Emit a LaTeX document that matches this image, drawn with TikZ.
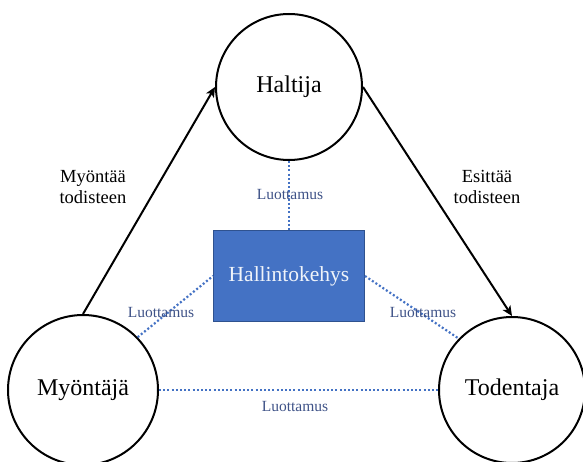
\documentclass[tikz,border=0pt]{standalone}
\usepackage{fontspec}
\setmainfont{Liberation Serif}
\usetikzlibrary{arrows.meta}
\definecolor{boxblue}{HTML}{4472C4}
\definecolor{boxedge}{HTML}{2F528F}
\definecolor{trusttext}{RGB}{62,82,135}
\tikzset{
  actor/.style={circle, draw=black, line width=2pt, inner sep=0pt, font=\fontsize{24}{28}\selectfont},
  frame/.style={rectangle, draw=boxedge, line width=1pt, fill=boxblue, minimum width=151pt, minimum height=90pt, text=white!92!boxblue, font=\fontsize{21.5}{26}\selectfont},
  trust/.style={draw=boxblue, line width=2.2pt, dash pattern=on 2pt off 2.2pt},
  trustlabel/.style={text=trusttext, font=\fontsize{15.5}{18}\selectfont, inner sep=0pt},
  flow/.style={draw=black, line width=2pt, -{Stealth[length=10pt,width=9pt,inset=2.5pt]}},
  flowlabel/.style={align=center, font=\fontsize{18.5}{21}\selectfont, inner sep=0pt}
}
\begin{document}
\begin{tikzpicture}[x=1pt,y=-1pt]
\useasboundingbox (0,0) rectangle (583,462);
\node[actor, minimum size=146pt] (h) at (289,87) {Haltija};
\node[actor, minimum size=150pt] (m) at (83,390) {Myöntäjä};
\node[actor, minimum size=146pt] (t) at (512,390) {Todentaja};
\node[frame] (f) at (289,276) {Hallintokehys};

\draw[trust] (h.south) -- (f.north);
\draw[trust] (m.44) -- (f.west);
\draw[trust] (f.east) -- (t.136);
\draw[trust] (m.east) -- (t.west);

\node[trustlabel] (l1) at (290,195) {Luottamus};
\node[trustlabel] (l2) at (161,312) {Luottamus};
\node[trustlabel] (l3) at (423,312) {Luottamus};
\node[trustlabel] (l4) at (295,406) {Luottamus};

\draw[flow] (m.north) -- (h.west);
\draw[flow] (h.east) -- (t.north);

\node[flowlabel] (a1) at (93,187) {Myöntää\\todisteen};
\node[flowlabel] (a2) at (487,187) {Esittää\\todisteen};
\end{tikzpicture}
\end{document}
